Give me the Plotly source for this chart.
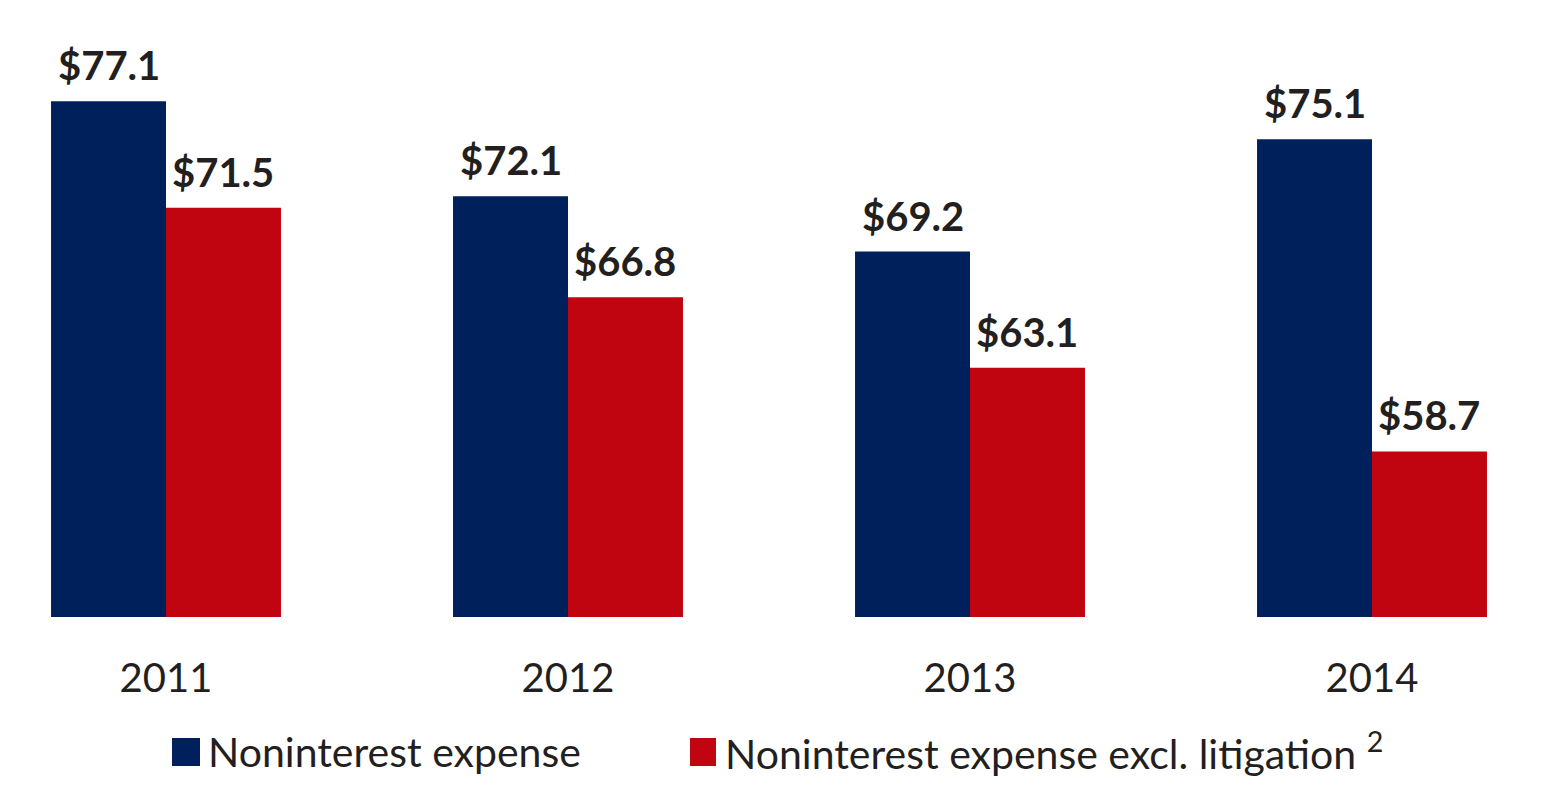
import plotly.graph_objects as go

years = ["2011", "2012", "2013", "2014"]
nonint_expense = [77.1, 72.1, 69.2, 75.1]
nonint_excl_lit = [71.5, 66.8, 63.1, 58.7]
series_names = ["Noninterest expense", "Noninterest expense excl. litigation"]

BLUE = "#00205C"
RED = "#C00511"
TXT = "#231F20"
FONT = "Lato"

PAGE_OFF = 8          # default body margin of the html page
W, H = 1544, 796      # figure size (fits the 1552x804 window)
M_T, M_B = 38, 187
BARGAP = 0.428

x = list(range(len(years)))

fig = go.Figure()
fig.add_trace(go.Bar(x=x, y=nonint_expense, name=series_names[0],
                     marker=dict(color=BLUE, line=dict(width=0)), showlegend=False))
fig.add_trace(go.Bar(x=x, y=nonint_excl_lit, name=series_names[1],
                     marker=dict(color=RED, line=dict(width=0)), showlegend=False))

half = (1 - BARGAP) / 4
annotations = []
for i, (a, b) in enumerate(zip(nonint_expense, nonint_excl_lit)):
    for xv, v in ((i - half, a), (i + half, b)):
        annotations.append(dict(x=xv, y=v, xref="x", yref="y", text=f"${v:.1f}",
                                showarrow=False, yanchor="bottom", yshift=10,
                                font=dict(family=FONT, size=40, color=TXT, weight="bold")))

plot_h = H - M_T - M_B
def py(pix):
    return (H - M_B - (pix - PAGE_OFF)) / plot_h
def px(pix):
    return (pix - PAGE_OFF) / W

# custom legend
leg = [(172, 200, 206, BLUE, series_names[0]),
       (690, 716, 723, RED, series_names[1] + " <sup>2</sup>")]
shapes = []
for x0, x1, tx, col, label in leg:
    shapes.append(dict(type="rect", xref="paper", yref="paper",
                       x0=px(x0), x1=px(x1), y0=py(766), y1=py(738),
                       fillcolor=col, line=dict(width=0)))
    annotations.append(dict(x=px(tx), y=py(751), xref="paper", yref="paper",
                            text=label, showarrow=False, xanchor="left", yanchor="middle",
                            font=dict(family=FONT, size=41, color=TXT)))

fig.update_layout(
    width=W, height=H,
    margin=dict(l=0, r=0, t=M_T, b=M_B),
    paper_bgcolor="white", plot_bgcolor="white",
    barmode="group", bargap=BARGAP, bargroupgap=0,
    xaxis=dict(range=[(PAGE_OFF - 166) / 402, 1386 / 402], tickvals=x, ticktext=years,
               showgrid=False, zeroline=False, showline=False, ticks="",
               ticklabelstandoff=34,
               tickfont=dict(family=FONT, size=40, color=TXT)),
    yaxis=dict(range=[50, 80], visible=False, showgrid=False),
    annotations=annotations, shapes=shapes,
    showlegend=False,
)

fig.write_html("out.html")
